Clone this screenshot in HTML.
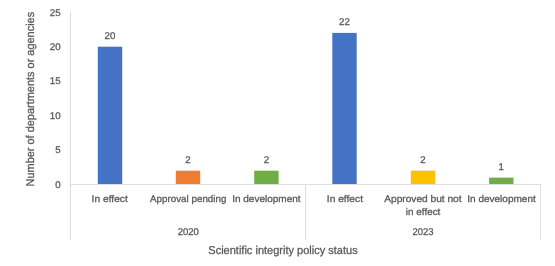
<!DOCTYPE html>
<html><head><meta charset="utf-8">
<style>
html,body{margin:0;padding:0;background:#fff;width:555px;height:266px;overflow:hidden}
svg{display:block}
text{font-family:"Liberation Sans",sans-serif;fill:#595959;stroke:#595959;stroke-width:0.28px;text-rendering:geometricPrecision}
svg{will-change:transform}
.s{font-size:9.7px}
.t{font-size:11.4px}
</style></head><body>
<svg width="555" height="266" viewBox="0 0 555 266">
<rect x="0" y="0" width="555" height="266" fill="#fff"/>
<!-- bars -->
<rect x="97.8" y="46.7" width="24.4" height="137.8" fill="#4472C4"/>
<rect x="175.8" y="170.7" width="24.4" height="13.8" fill="#ED7D31"/>
<rect x="254.2" y="170.7" width="24.4" height="13.8" fill="#70AD47"/>
<rect x="332.3" y="32.9" width="24.4" height="151.6" fill="#4472C4"/>
<rect x="410.8" y="170.7" width="24.4" height="13.8" fill="#FFC000"/>
<rect x="489.1" y="177.6" width="24.4" height="6.9" fill="#70AD47"/>
<!-- axis lines -->
<g stroke="#DEDEDE" stroke-width="1" fill="none">
<line x1="70.5" y1="11.8" x2="70.5" y2="240"/>
<line x1="70" y1="184.5" x2="541" y2="184.5"/>
<line x1="305.5" y1="184" x2="305.5" y2="240"/>
<line x1="540.5" y1="184" x2="540.5" y2="240"/>
</g>
<!-- y tick labels -->
<g class="s" text-anchor="end">
<text x="60.6" y="15.5">25</text>
<text x="60.6" y="49.9">20</text>
<text x="60.6" y="84.3">15</text>
<text x="60.6" y="118.8">10</text>
<text x="60.6" y="153.2">5</text>
<text x="60.6" y="187.7">0</text>
</g>
<!-- data labels -->
<g class="s" text-anchor="middle">
<text x="110" y="39">20</text>
<text x="188" y="163">2</text>
<text x="266.4" y="163">2</text>
<text x="344.5" y="25">22</text>
<text x="423" y="163">2</text>
<text x="501.3" y="169.9">1</text>
</g>
<!-- category labels -->
<g class="s" text-anchor="middle">
<text x="109.7" y="201.7" textLength="36.2" lengthAdjust="spacingAndGlyphs">In effect</text>
<text x="188.2" y="201.7" textLength="76.4" lengthAdjust="spacingAndGlyphs">Approval pending</text>
<text x="266.4" y="201.7" textLength="68.5" lengthAdjust="spacingAndGlyphs">In development</text>
<text x="344.9" y="201.7" textLength="36.2" lengthAdjust="spacingAndGlyphs">In effect</text>
<text x="422.9" y="201.7" textLength="77.3" lengthAdjust="spacingAndGlyphs">Approved but not</text>
<text x="423.1" y="214.6" textLength="34.5" lengthAdjust="spacingAndGlyphs">in effect</text>
<text x="501.5" y="201.7" textLength="68.5" lengthAdjust="spacingAndGlyphs">In development</text>
<text x="188.3" y="234.9" textLength="21.2" lengthAdjust="spacingAndGlyphs">2020</text>
<text x="423" y="234.9" textLength="21.0" lengthAdjust="spacingAndGlyphs">2023</text>
</g>
<text class="t" x="283" y="254.4" text-anchor="middle" textLength="149.4" lengthAdjust="spacingAndGlyphs">Scientific integrity policy status</text>
<text class="t" transform="translate(33.6,99.15) rotate(-90)" x="0" y="0" text-anchor="middle" textLength="174.6" lengthAdjust="spacingAndGlyphs">Number of departments or agencies</text>
</svg>
</body></html>
